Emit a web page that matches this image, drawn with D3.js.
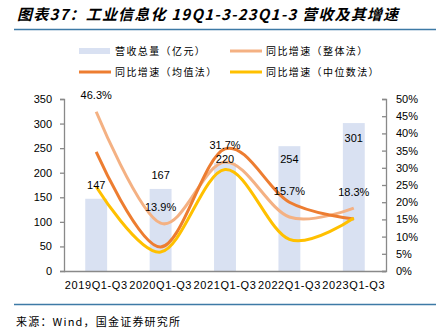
<!DOCTYPE html>
<html><head><meta charset="utf-8">
<script src="https://cdn.jsdelivr.net/npm/d3@7/dist/d3.min.js"></script>
<style>
body{margin:0;background:#fff;}
svg{display:block;}
text{font-family:"Liberation Sans",Arial,sans-serif;fill:#000;}
.cjk{font-family:"Noto Sans CJK SC","Liberation Sans",sans-serif;}
</style></head>
<body>
<script>
const categories = ["2019Q1-Q3","2020Q1-Q3","2021Q1-Q3","2022Q1-Q3","2023Q1-Q3"];
const revenue = [147,167,220,254,301];
const growthOverall = [46.3,13.9,31.7,15.7,18.3];
const growthMean = [34.6,7.0,35.5,20.0,15.1];
const growthMedian = [24.5,5.5,29.5,9.2,15.4];
const leftTicks = [0,50,100,150,200,250,300,350];
const rightTicks = [0,5,10,15,20,25,30,35,40,45,50];
const seriesNames = ["营收总量（亿元）","同比增速（整体法）","同比增速（均值法）","同比增速（中位数法）"];
const titleText = "图表37：工业信息化 19Q1-3-23Q1-3 营收及其增速";
const sourceText = "来源：Wind，国金证券研究所";
// label offsets (styling)
const revLabelDy = [-14,-14,-4,13,15];
const pctLabelDy = [-17,-16,-17,-26,-16];

const W=436,H=328;
const svg=d3.select("body").append("svg").attr("width",W).attr("height",H);
const colors={bar:"#d9e1f2",overall:"#f4b183",mean:"#ed7d31",median:"#ffc000",axis:"#898989"};

// Title
svg.append("text").attr("class","cjk").attr("x",17).attr("y",20)
  .style("font-size","15px").style("font-weight","bold").style("font-style","italic")
  .style("letter-spacing","1.2px").text(titleText);
svg.append("line").attr("x1",14).attr("x2",436).attr("y1",29.5).attr("y2",29.5)
  .attr("stroke","#3d7aa6").attr("stroke-width",1.5);

const m={l:64,r:386,t:99,b:271};
const x=d3.scaleBand().domain(categories).range([m.l,m.r]).paddingInner(0.66).paddingOuter(0.33);
const yL=d3.scaleLinear().domain([0,350]).range([m.b,m.t]);
const yR=d3.scaleLinear().domain([0,50]).range([m.b,m.t]);

// bars
svg.selectAll("rect.bar").data(revenue).enter().append("rect")
  .attr("x",(d,i)=>x(categories[i])).attr("width",x.bandwidth())
  .attr("y",d=>yL(d)).attr("height",d=>yL(0)-yL(d)).attr("fill",colors.bar);

// axes
const axL=svg.append("g").attr("transform",`translate(${m.l},0)`)
  .call(d3.axisLeft(yL).tickValues(leftTicks).tickSize(4).tickPadding(8));
const axR=svg.append("g").attr("transform",`translate(${m.r},0)`)
  .call(d3.axisRight(yR).tickValues(rightTicks).tickSize(-4).tickPadding(10).tickFormat(d=>d+"%"));
const axB=svg.append("g").attr("transform",`translate(0,${m.b})`)
  .call(d3.axisBottom(x).tickSize(0).tickPadding(10));
[axL,axR,axB].forEach(g=>{
  g.selectAll("path,line").attr("stroke",colors.axis).attr("stroke-width",1.3);
  g.selectAll("text").style("font-size","11px").attr("fill","#000").style("font-family","Liberation Sans, Arial, sans-serif");
});
axB.select("path").attr("d",`M${m.l},0.5H${m.r}`);
axB.selectAll("text").style("letter-spacing","0.6px");

// lines
const cx=i=>x(categories[i])+x.bandwidth()/2;
const lineGen=d3.line().x((d,i)=>cx(i)).y(d=>yR(d)).curve(d3.curveCardinal.tension(0));
[[growthOverall,colors.overall],[growthMean,colors.mean],[growthMedian,colors.median]].forEach(([data,c])=>{
  svg.append("path").datum(data).attr("d",lineGen).attr("fill","none")
    .attr("stroke",c).attr("stroke-width",3).attr("stroke-linecap","butt");
});

// labels
svg.selectAll("text.rev").data(revenue).enter().append("text")
  .attr("x",(d,i)=>cx(i)).attr("y",(d,i)=>yL(d)+revLabelDy[i]+4)
  .attr("text-anchor","middle").style("font-size","11px").text(d=>d);
svg.selectAll("text.pct").data(growthOverall).enter().append("text")
  .attr("x",(d,i)=>cx(i)).attr("y",(d,i)=>yR(d)+pctLabelDy[i]+4)
  .attr("text-anchor","middle").style("font-size","11px").text(d=>d.toFixed(1)+"%");

// legend
const lg=svg.append("g");
const legendItems=[
  {n:seriesNames[0],t:"rect",c:colors.bar,x:79,y:51},
  {n:seriesNames[1],t:"line",c:colors.overall,x:230,y:51},
  {n:seriesNames[2],t:"line",c:colors.mean,x:79,y:72},
  {n:seriesNames[3],t:"line",c:colors.median,x:230,y:72}];
legendItems.forEach(it=>{
  if(it.t==="rect") lg.append("rect").attr("x",it.x).attr("y",it.y-3).attr("width",31).attr("height",6).attr("fill",it.c);
  else lg.append("line").attr("x1",it.x).attr("x2",it.x+32).attr("y1",it.y).attr("y2",it.y).attr("stroke",it.c).attr("stroke-width",3);
  lg.append("text").attr("class","cjk").attr("x",it.x+36).attr("y",it.y+3.5)
    .style("font-size","10px").style("letter-spacing","1.4px").attr("fill","#333").text(it.n);
});

// footer
svg.append("line").attr("x1",14).attr("x2",436).attr("y1",304.5).attr("y2",304.5)
  .attr("stroke","#3d7aa6").attr("stroke-width",1.5);
svg.append("text").attr("class","cjk").attr("x",16).attr("y",326).style("font-size","11px")
  .style("letter-spacing","1.2px").text(sourceText);
</script>
</body></html>
